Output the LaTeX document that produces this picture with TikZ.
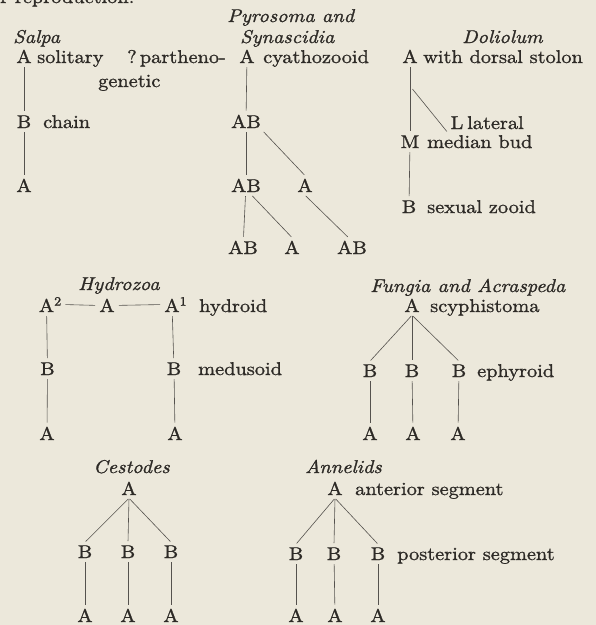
\documentclass[tikz,border=0pt]{standalone}
\usepackage{fontspec}
\setmainfont{lmroman10}[Extension=.otf, UprightFont=*-regular, ItalicFont=*-italic,
  BoldFont=*-regular, BoldItalicFont=*-italic,
  BoldFeatures={FakeBold=1.2}, BoldItalicFeatures={FakeBold=1.2}, FakeStretch=1.1]
\usetikzlibrary{calc}
\definecolor{paper}{RGB}{236,232,219}
\definecolor{ink}{RGB}{45,42,38}
\definecolor{rule}{RGB}{85,82,78}

\begin{document}
\begin{tikzpicture}[x=1pt, y=-1pt,
  every node/.style={text=ink, font=\fontsize{18.5}{22}\selectfont\bfseries, inner sep=3pt},
  letter/.style={anchor=base},
  note/.style={anchor=base west, inner sep=0pt},
  title/.style={anchor=base west, inner sep=0pt, font=\fontsize{18.5}{22}\selectfont\bfseries\itshape},
  link/.style={draw=rule, line width=0.6pt, shorten <=1pt, shorten >=1pt}
]
  \useasboundingbox (0,0) rectangle (596,625);
  \fill[paper] (0,0) rectangle (596,625);
  \clip (0,0) rectangle (596,625);

  % cut-off line of the page above
  \node[note] (pagetop) at (0,3) {r reproduction.};

  % Salpa
  \node[title] (salpa) at (13,43) {Salpa};
  \node[letter] (sA1) at (24,63) {A};
  \node[note] at (37,63) {solitary};
  \node[note] at (127,63) {?\,partheno-};
  \node[note] at (98,87) {genetic};
  \node[letter] (sB) at (24,128) {B};
  \node[note] at (43,128) {chain};
  \node[letter] (sA2) at (24,192) {A};
  \draw[link] (sA1) -- (sB);
  \draw[link] (sB) -- (sA2);

  % Pyrosoma and Synascidia
  \node[title] (pyro) at (227,22) {Pyrosoma and};
  \node[title] (synas) at (240,43) {Synascidia};
  \node[letter] (pA) at (247,63) {A};
  \node[note] at (263,63) {cyathozooid};
  \node[letter] (pAB1) at (246,128) {AB};
  \node[letter] (pAB2) at (246,192) {AB};
  \node[letter] (pA2) at (305,192) {A};
  \node[letter] (pAB3) at (243,254) {AB};
  \node[letter] (pA3) at (292,254) {A};
  \node[letter] (pAB4) at (352,254) {AB};
  \draw[link] (pA) -- (pAB1);
  \draw[link] (pAB1) -- (pAB2);
  \draw[link] (pAB1.-30) -- (pA2.north);
  \draw[link] (pAB2) -- (pAB3);
  \draw[link] (pAB2.-60) -- (pA3.north);
  \draw[link] (pA2.south) -- (pAB4.110);

  % Doliolum
  \node[title] (dolio) at (462,43) {Doliolum};
  \node[letter] (dA) at (410,63) {A};
  \node[note] at (423,63) {with dorsal stolon};
  \node[letter] (dL) at (457,129) {L};
  \node[note] at (467,129) {lateral};
  \node[letter] (dM) at (410,148) {M};
  \node[note] at (427,148) {median bud};
  \node[letter] (dB) at (409,213) {B};
  \node[note] at (427,213) {sexual zooid};
  \draw[link] (dA) -- (dM);
  \draw[link, shorten <=4pt] ($(dA.south)!0.3!(dM.north)$) -- (dL.south west);
  \draw[link] (dM) -- (dB);

  % Hydrozoa
  \node[title] (hydro) at (78,290) {Hydrozoa};
  \node[letter] (hA2) at (46.5,312) {A\rlap{\textsuperscript{2}}};
  \node[letter] (hA) at (107,312) {A};
  \node[letter] (hA1) at (172,312) {A\rlap{\textsuperscript{1}}};
  \node[note] at (199,312) {hydroid};
  \node[letter] (hB1) at (47.5,375) {B};
  \node[letter] (hB2) at (174,375) {B};
  \node[note] at (198,375) {medusoid};
  \node[letter] (hA3) at (47,440) {A};
  \node[letter] (hA4) at (175,440) {A};
  \draw[link] ([xshift=7pt]hA2.east) -- (hA.west);
  \draw[link] (hA.east) -- (hA1.west);
  \draw[link] (hA2) -- (hB1);
  \draw[link] (hB1) -- (hA3);
  \draw[link] (hA1) -- (hB2);
  \draw[link] (hB2) -- (hA4);

  % Fungia and Acraspeda
  \node[title] (fungia) at (370,292) {Fungia and Acraspeda};
  \node[letter] (fA) at (412,312) {A};
  \node[note] at (430,312) {scyphistoma};
  \node[letter] (fB1) at (370,377) {B};
  \node[letter] (fB2) at (412,377) {B};
  \node[letter] (fB3) at (459,377) {B};
  \node[note] at (477,377) {ephyroid};
  \node[letter] (fA1) at (370,440) {A};
  \node[letter] (fA2) at (413,440) {A};
  \node[letter] (fA3) at (458,440) {A};
  \draw[link] (fA.south) -- (fB1.north);
  \draw[link] (fA.south) -- (fB2.north);
  \draw[link] (fA.south) -- (fB3.north);
  \draw[link] (fB1) -- (fA1);
  \draw[link] (fB2) -- (fA2);
  \draw[link] (fB3) -- (fA3);

  % Cestodes
  \node[title] (cesto) at (93,473) {Cestodes};
  \node[letter] (cA) at (129,495) {A};
  \node[letter] (cB1) at (85,558) {B};
  \node[letter] (cB2) at (128,558) {B};
  \node[letter] (cB3) at (171,558) {B};
  \node[letter] (cA1) at (85,622) {A};
  \node[letter] (cA2) at (128,622) {A};
  \node[letter] (cA3) at (171,622) {A};
  \draw[link] (cA.south) -- (cB1.north);
  \draw[link] (cA.south) -- (cB2.north);
  \draw[link] (cA.south) -- (cB3.north);
  \draw[link] (cB1) -- (cA1);
  \draw[link] (cB2) -- (cA2);
  \draw[link] (cB3) -- (cA3);

  % Annelids
  \node[title] (annel) at (305,473) {Annelids};
  \node[letter] (aA) at (335,495) {A};
  \node[note] at (355,495) {anterior segment};
  \node[letter] (aB1) at (296,560) {B};
  \node[letter] (aB2) at (334,560) {B};
  \node[letter] (aB3) at (378,560) {B};
  \node[note] at (397,560) {posterior segment};
  \node[letter] (aA1) at (296,622) {A};
  \node[letter] (aA2) at (335,622) {A};
  \node[letter] (aA3) at (378,622) {A};
  \draw[link] (aA.south) -- (aB1.north);
  \draw[link] (aA.south) -- (aB2.north);
  \draw[link] (aA.south) -- (aB3.north);
  \draw[link] (aB1) -- (aA1);
  \draw[link] (aB2) -- (aA2);
  \draw[link] (aB3) -- (aA3);
\end{tikzpicture}
\end{document}
